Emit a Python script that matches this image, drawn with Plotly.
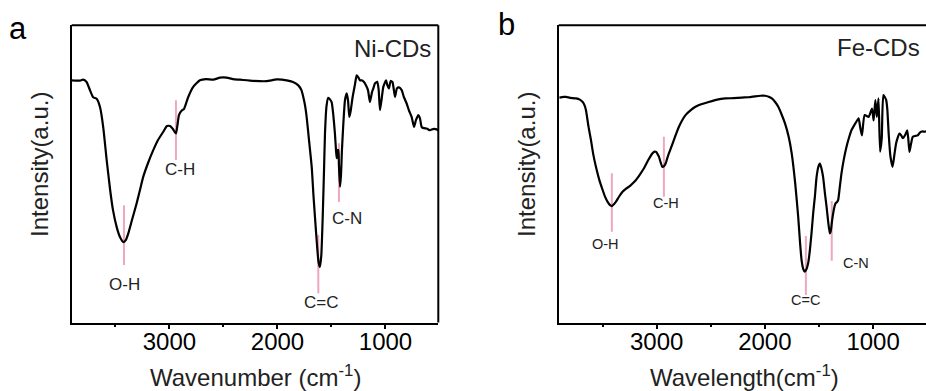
import plotly.graph_objects as go

# ---------------- data ----------------
# Panel a : Ni-CDs  (wavenumber cm-1, intensity a.u.)
ni_wn = [3906, 3829, 3801, 3767, 3750, 3736, 3706, 3674, 3643, 3613, 3581, 3549, 3523, 3489, 3458,
         3426, 3403, 3381, 3347, 3304, 3273, 3243, 3199, 3150, 3106, 3057, 3023, 2995, 2968, 2940,
         2926, 2912, 2884, 2866, 2826, 2780, 2718, 2662, 2594, 2532, 2470, 2412, 2347, 2224, 2100,
         2007, 1915, 1856, 1807, 1778, 1761, 1745, 1730, 1708, 1683, 1667, 1653, 1634, 1620, 1607,
         1594, 1581, 1569, 1560, 1546, 1530, 1514, 1498, 1483, 1468, 1458, 1452, 1444, 1437, 1431,
         1421, 1412, 1403, 1391, 1375, 1359, 1347, 1335, 1324, 1304, 1282, 1267, 1252, 1236, 1220,
         1199, 1181, 1162, 1144, 1125, 1113, 1097, 1076, 1063, 1051, 1037, 1020, 995, 982, 968,
         952, 935, 912, 894, 875, 850, 829, 804, 783, 758, 736, 718, 696, 681, 665,
         644, 619, 588, 560, 526, 511]
ni_int = [81.5, 81.4, 81.7, 80.9, 79.5, 78.2, 75.8, 75.3, 72.5, 65.7, 54.6, 44.6, 37.9, 32.2, 28.8,
          27.1, 27.8, 30.0, 34.5, 40.1, 44.6, 49.0, 53.6, 58.0, 61.4, 64.2, 66.1, 66.1, 65.1, 63.6,
          66.4, 69.8, 71.4, 71.8, 75.9, 79.3, 81.5, 81.9, 81.7, 82.4, 82.4, 81.9, 81.7, 81.3, 81.2,
          81.8, 81.5, 80.9, 79.8, 78.2, 75.9, 73.1, 69.2, 61.4, 52.4, 42.9, 35.6, 26.1, 20.4, 18.7,
          22.7, 35.6, 51.3, 63.6, 72.8, 75.6, 75.1, 74.1, 69.8, 63.6, 58.0, 55.3, 58.0, 58.0, 53.0,
          45.7, 49.6, 58.0, 66.4, 74.8, 77.1, 74.8, 69.2, 70.8, 75.9, 80.2, 83.2, 82.5, 81.5, 81.5,
          80.9, 79.8, 78.2, 74.2, 77.5, 78.7, 80.5, 81.0, 78.2, 71.5, 74.8, 79.3, 81.5, 79.8, 78.8,
          81.3, 80.9, 75.9, 78.8, 79.1, 78.2, 75.8, 73.7, 71.4, 69.2, 65.8, 68.1, 69.8, 68.8, 65.8,
          65.4, 65.3, 64.7, 65.1, 65.0, 64.6]

# Panel b : Fe-CDs
fe_wn = [3898, 3860, 3837, 3800, 3745, 3710, 3683, 3665, 3653, 3630, 3607, 3585, 3561, 3530, 3499,
         3475, 3453, 3430, 3414, 3395, 3377, 3345, 3315, 3285, 3255, 3225, 3193, 3155, 3117, 3080,
         3040, 3020, 3005, 2990, 2979, 2962, 2948, 2932, 2917, 2900, 2887, 2865, 2841, 2820, 2795,
         2765, 2733, 2690, 2641, 2580, 2519, 2440, 2366, 2290, 2212, 2150, 2090, 2040, 1998, 1965,
         1936, 1905, 1876, 1845, 1814, 1780, 1752, 1720, 1692, 1675, 1661, 1645, 1631, 1615, 1600,
         1585, 1569, 1553, 1538, 1522, 1505, 1492, 1478, 1462, 1445, 1430, 1415, 1400, 1390, 1380,
         1369, 1357, 1347, 1335, 1323, 1308, 1292, 1270, 1246, 1220, 1200, 1164, 1134, 1118, 1103,
         1078, 1041, 1010, 995, 979, 965, 950, 935, 920, 905, 880, 869, 855, 840, 820,
         803, 787, 770, 756, 740, 725, 705, 685, 675, 664, 650, 633, 610, 587, 570,
         556, 540, 526, 511]
fe_int = [75.7, 75.9, 75.9, 75.6, 75.4, 75.0, 74.2, 73.0, 71.4, 66.0, 61.4, 56.5, 52.4, 48.0, 44.6,
          42.2, 40.6, 39.5, 39.2, 39.8, 40.6, 42.5, 44.0, 45.0, 45.7, 46.7, 47.9, 49.8, 51.9, 54.5,
          56.9, 57.5, 57.4, 56.6, 55.8, 53.8, 52.4, 52.6, 53.5, 55.5, 56.9, 59.0, 61.4, 63.5, 65.8,
          68.0, 69.8, 71.3, 72.6, 73.5, 74.2, 75.0, 75.4, 75.5, 75.7, 75.8, 76.1, 76.3, 76.3, 76.0,
          75.4, 74.2, 72.6, 70.0, 67.0, 62.5, 56.9, 47.0, 35.6, 27.0, 21.1, 18.0, 17.1, 18.0, 20.0,
          24.0, 30.0, 37.0, 42.3, 49.0, 52.5, 53.5, 52.0, 49.0, 43.5, 39.0, 34.0, 30.0, 31.0, 34.0,
          36.7, 39.0, 40.1, 40.5, 41.2, 45.5, 50.2, 55.0, 59.1, 62.5, 64.7, 67.0, 68.7, 65.5, 63.0,
          69.8, 69.2, 72.0, 68.0, 74.8, 69.2, 75.4, 57.5, 62.0, 76.5, 75.0, 72.0, 63.0, 56.0, 52.4,
          56.5, 60.3, 62.5, 63.6, 63.0, 62.0, 63.0, 64.7, 62.0, 57.4, 60.0, 62.5, 62.8, 63.0, 63.8,
          64.2, 64.3, 64.2, 64.3]

# peak markers (position, lower / upper end of the marker line, label)
ni_peak_wn = [3421, 2940, 1622, 1431]
ni_peak_lo = [19.4, 54.7, 9.9, 40.6]
ni_peak_hi = [39.5, 74.8, 29.5, 60.3]
ni_peak_lab = ["O-H", "C-H", "C=C", "C-N"]

fe_peak_wn = [3414, 2933, 1621, 1382]
fe_peak_lo = [30.6, 42.3, 9.3, 20.8]
fe_peak_hi = [50.2, 62.5, 29.1, 40.9]
fe_peak_lab = ["O-H", "C-H", "C=C", "C-N"]

x_ticks = [3000, 2000, 1000]
x_range = [3905, 511]
y_range = [0, 100]

# ---------------- styling ----------------
FONT = "Liberation Sans, Arial, sans-serif"
PINK = "#eea6c2"
W, H = 926, 391


def px_x(p):
    return p / W


def px_y(p):
    return (H - p) / H


fig = go.Figure()


def add_peaks(wn, lo, hi, xa, ya):
    xs, ys = [], []
    for w, l, h in zip(wn, lo, hi):
        xs += [w, w, None]
        ys += [l, h, None]
    fig.add_trace(go.Scatter(x=xs, y=ys, mode="lines", xaxis=xa, yaxis=ya,
                             line=dict(color=PINK, width=2), hoverinfo="skip",
                             showlegend=False))


add_peaks(ni_peak_wn, ni_peak_lo, ni_peak_hi, "x", "y")
add_peaks(fe_peak_wn, fe_peak_lo, fe_peak_hi, "x2", "y2")

fig.add_trace(go.Scatter(x=ni_wn, y=ni_int, mode="lines", xaxis="x", yaxis="y",
                         line=dict(color="black", width=2.2, shape="spline", smoothing=0.5),
                         showlegend=False))
fig.add_trace(go.Scatter(x=fe_wn, y=fe_int, mode="lines", xaxis="x2", yaxis="y2",
                         line=dict(color="black", width=2.2, shape="spline", smoothing=0.5),
                         showlegend=False))

Y_BOT, Y_TOP = 322.6, 25.3
A_L, A_R = 71.7, 438.3
B_L = 558.7
ydom = [px_y(Y_BOT), px_y(Y_TOP)]

xaxis_common = dict(range=x_range, tickvals=x_ticks, ticks="outside", ticklen=4, tickwidth=1.5,
                    tickcolor="black", showline=True, linecolor="black", linewidth=2,
                    showgrid=False, zeroline=False, ticklabelstandoff=-7,
                    tickfont=dict(family=FONT, size=24, color="black"),
                    minor=dict(dtick=500, tick0=0, ticks="outside", ticklen=2.5,
                               tickcolor="black", tickwidth=1.5, showgrid=False))
yaxis_common = dict(range=y_range, showticklabels=False, ticks="", showline=True,
                    linecolor="black", linewidth=2, showgrid=False, zeroline=False)

fig.update_layout(
    width=W, height=H, margin=dict(l=0, r=0, t=0, b=0),
    paper_bgcolor="white", plot_bgcolor="white",
    xaxis=dict(domain=[px_x(A_L), px_x(A_R)], anchor="y", **xaxis_common),
    yaxis=dict(domain=ydom, anchor="x", **yaxis_common),
    xaxis2=dict(domain=[px_x(B_L), 1.0], anchor="y2", **xaxis_common),
    yaxis2=dict(domain=ydom, anchor="x2", **yaxis_common),
    font=dict(family=FONT, color="black"),
)

# frame edges drawn in paper coordinates (top of both panels, right of panel a)
frame = dict(type="line", xref="paper", yref="paper", line=dict(color="black", width=2),
             layer="above")
fig.add_shape(x0=px_x(A_L), x1=px_x(A_R), y0=px_y(Y_TOP), y1=px_y(Y_TOP), **frame)
fig.add_shape(x0=px_x(A_R), x1=px_x(A_R), y0=px_y(Y_BOT), y1=px_y(Y_TOP), **frame)
fig.add_shape(x0=px_x(B_L), x1=1.0, y0=px_y(Y_TOP), y1=px_y(Y_TOP), **frame)

ann = []
# peak labels (data coordinates)
ni_lab_pos = [(3412, 12.7), (2903, 51.5), (1597, 6.7), (1359, 35.1)]
fe_lab_pos = [(3469, 26.4), (2911, 40.1), (1621, 7.6), (1161, 20.0)]
for lab, (x, y) in zip(ni_peak_lab, ni_lab_pos):
    ann.append(dict(x=x, y=y, xref="x", yref="y", text=lab, showarrow=False,
                    xanchor="center", yanchor="middle",
                    font=dict(family=FONT, size=17, color="#222")))
for lab, (x, y) in zip(fe_peak_lab, fe_lab_pos):
    ann.append(dict(x=x, y=y, xref="x2", yref="y2", text=lab, showarrow=False,
                    xanchor="center", yanchor="middle",
                    font=dict(family=FONT, size=14.5, color="#222")))

# sample names
ann.append(dict(x=560, y=92.3, xref="x", yref="y", text="Ni-CDs", showarrow=False,
                xanchor="right", yanchor="middle", font=dict(family=FONT, size=24, color="#222")))
ann.append(dict(x=545, y=92.7, xref="x2", yref="y2", text="Fe-CDs", showarrow=False,
                xanchor="right", yanchor="middle", font=dict(family=FONT, size=24, color="#222")))


def paper_text(x, y, text, size, angle=0, color="#222"):
    ann.append(dict(x=px_x(x), y=px_y(y), xref="paper", yref="paper", text=text,
                    showarrow=False, xanchor="center", yanchor="middle", textangle=angle,
                    font=dict(family=FONT, size=size, color=color)))


# axis titles
paper_text(255.8, 376, "Wavenumber (cm<sup>-1</sup>)", 24)
paper_text(744.3, 376, "Wavelength(cm<sup>-1</sup>)", 24)
paper_text(39, 165, "Intensity(a.u.)", 24, angle=-90)
paper_text(526, 165, "Intensity(a.u.)", 24, angle=-90)

# panel letters
paper_text(18, 28, "a", 31, color="black")
paper_text(506, 25, "b", 31, color="black")

fig.update_layout(annotations=ann)

fig.write_html("out.html")
